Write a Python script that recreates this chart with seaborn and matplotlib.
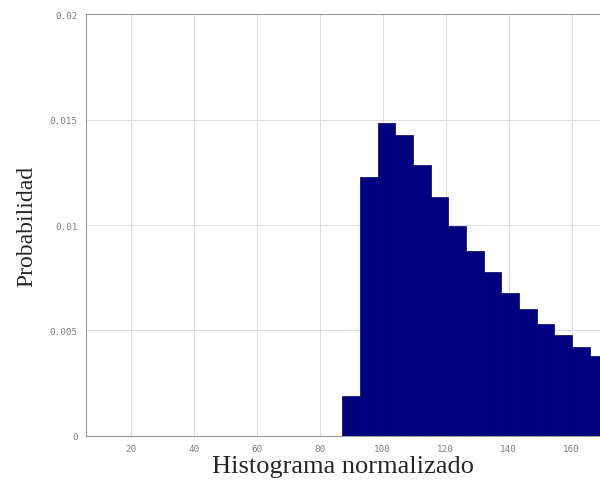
import matplotlib
matplotlib.use("Agg")
import matplotlib.pyplot as plt
import numpy as np
import pandas as pd
import seaborn as sns

# bin edges of the histogram and normalised probability per bin
bin_start = 87.1
bin_width = 5.62
probs = [0.00188, 0.01226, 0.01483, 0.01427, 0.01284, 0.01134, 0.00997,
         0.00875, 0.00776, 0.00679, 0.00603, 0.00531, 0.00477, 0.00423, 0.00381]
x_ticks = [20, 40, 60, 80, 100, 120, 140, 160]
y_ticks = [0, 0.005, 0.01, 0.015, 0.02]
y_tick_labels = ["0", "0.005", "0.01", "0.015", "0.02"]

edges = bin_start + bin_width * np.arange(len(probs) + 1)
df = pd.DataFrame({"center": (edges[:-1] + edges[1:]) / 2, "prob": probs})

sns.set_style("white")

fig = plt.figure(figsize=(6, 4.85), dpi=100)
ax = fig.add_axes([0.1433, 0.099, 0.8567, 0.870])

sns.histplot(data=df, x="center", weights="prob", bins=list(edges), stat="count",
             color="#000080", alpha=1, edgecolor="#000060", linewidth=0.5, ax=ax)

ax.set_xlim(5.7, 169)
ax.set_ylim(0, 0.02)
ax.set_xticks(x_ticks)
ax.set_yticks(y_ticks)
ax.set_yticklabels(y_tick_labels)
ax.grid(True, color="#dcdcdc", linewidth=0.7)
ax.set_axisbelow(True)

for side in ("left", "bottom", "top"):
    ax.spines[side].set_color("#9a9a9a")
    ax.spines[side].set_linewidth(0.8)
ax.spines["right"].set_visible(False)

ax.tick_params(direction="in", length=3, color="#9a9a9a", labelcolor="#808080",
               labelsize=6.7, pad=6)
for lbl in ax.get_xticklabels() + ax.get_yticklabels():
    lbl.set_family("DejaVu Sans Mono")

ax.set_xlabel("Histograma normalizado", family="Liberation Serif", fontsize=19, labelpad=1)
ax.set_ylabel("Probabilidad", family="Liberation Serif", fontsize=17, labelpad=9)

fig.savefig("out.png", dpi=100)
